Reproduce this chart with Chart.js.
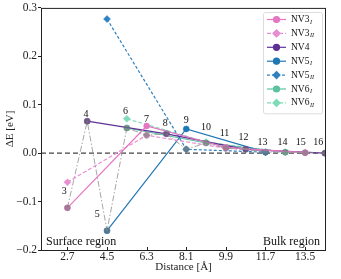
<!DOCTYPE html>
<html>
<head>
<meta charset="utf-8">
<script src="https://cdn.jsdelivr.net/npm/chart.js@4"></script>
<style>
  html, body { margin: 0; padding: 0; background: #fff; }
</style>
</head>
<body>
<canvas id="chart" width="341" height="279"></canvas>
<script>
// Layer number and depth of every layer in the slab
const layers = [3, 4, 5, 6, 7, 8, 9, 10, 11, 12, 13, 14, 15, 16];
const distances = [2.7, 3.6, 4.5, 5.4, 6.3, 7.2, 8.1, 9.0, 9.9, 10.8, 11.7, 12.6, 13.5, 14.4];
const xTicks = [2.7, 4.5, 6.3, 8.1, 9.9, 11.7, 13.5];
const yTicks = [-0.2, -0.1, 0.0, 0.1, 0.2, 0.3];

// Relative energies (eV) of each NV configuration
const nv3X = [2.7, 6.3, 9.9, 13.5];
const nv3iY = [-0.113, 0.056, 0.012, 0.001];
const nv3iiY = [-0.060, 0.037, 0.010, 0.001];
const nv4X = [3.6, 7.2, 10.8, 14.4];
const nv4Y = [0.066, 0.040, 0.008, 0.000];
const nv5X = [4.5, 8.1, 11.7];
const nv5iY = [-0.160, 0.050, 0.002];
const nv5iiY = [0.277, 0.008, 0.002];
const nv6X = [5.4, 9.0, 12.6];
const nv6iY = [0.052, 0.021, 0.002];
const nv6iiY = [0.071, 0.023, 0.002];
// lowest energy at each layer (grey zig-zag)
const minY = [-0.113, 0.066, -0.160, 0.052, 0.037, 0.040, 0.008, 0.021, 0.010, 0.008, 0.002, 0.002, 0.001, 0.000];

// where each layer number is written (data units)
const layerLabelX = [2.56, 3.55, 4.06, 5.34, 6.29, 7.15, 8.1, 9.0, 9.84, 10.7, 11.56, 12.47, 13.3, 14.1];
const layerLabelY = [-0.078, 0.080, -0.126, 0.087, 0.070, 0.062, 0.068, 0.054, 0.041, 0.033, 0.023, 0.023, 0.023, 0.023];

const SERIF = "'Liberation Serif', 'DejaVu Serif', serif";

const pts = (xs, ys) => xs.map((x, i) => ({ x: x, y: ys[i] }));

function series(label, sub, xs, ys, color, dash, style) {
  return {
    label: label,
    sub: sub,
    data: pts(xs, ys),
    borderColor: color,
    backgroundColor: color,
    pointBackgroundColor: color,
    pointBorderColor: color,
    borderWidth: 1.2,
    borderDash: dash,
    pointStyle: style,
    pointRadius: style === "circle" ? 3 : 3.5,
    pointBorderWidth: 0.5,
    tension: 0,
    order: 1,
  };
}

const datasets = [
  {
    label: "min",
    legend: false,
    data: pts(distances, minY),
    borderColor: "rgba(150,150,150,0.85)",
    borderWidth: 1,
    borderDash: [6, 2, 1.5, 2],
    pointStyle: "circle",
    pointRadius: 3.2,
    pointBackgroundColor: "rgba(120,120,120,0.55)",
    pointBorderColor: "rgba(120,120,120,0.3)",
    pointBorderWidth: 0,
    order: 0,
  },
  series("NV3", "I", nv3X, nv3iY, "#e377c2", [], "circle"),
  series("NV3", "II", nv3X, nv3iiY, "#ea8fd2", [4, 2], "rectRot"),
  series("NV4", "", nv4X, nv4Y, "#5f3196", [], "circle"),
  series("NV5", "I", nv5X, nv5iY, "#1f77b4", [], "circle"),
  series("NV5", "II", nv5X, nv5iiY, "#2f82c0", [3, 2], "rectRot"),
  series("NV6", "I", nv6X, nv6iY, "#5ec4a0", [], "circle"),
  series("NV6", "II", nv6X, nv6iiY, "#7fdcb8", [4, 2], "rectRot"),
];

// Draws zero line, frame, inward x ticks, text labels and the legend box
const decorations = {
  id: "decorations",
  beforeDatasetsDraw(chart) {
    const { ctx, chartArea: a, scales: { y } } = chart;
    const y0 = y.getPixelForValue(0);
    ctx.save();
    ctx.strokeStyle = "#444";
    ctx.lineWidth = 1.4;
    ctx.setLineDash([5, 3]);
    ctx.beginPath();
    ctx.moveTo(a.left, y0);
    ctx.lineTo(a.right, y0);
    ctx.stroke();
    ctx.restore();
  },
  afterDraw(chart) {
    const { ctx, chartArea: a, scales: { x, y } } = chart;
    ctx.save();

    // frame
    ctx.strokeStyle = "#222";
    ctx.lineWidth = 1;
    ctx.strokeRect(a.left + 0.5, a.top + 0.5, a.right - a.left - 1, a.bottom - a.top);

    // x ticks pointing into the plot
    ctx.beginPath();
    xTicks.forEach((v) => {
      const px = Math.round(x.getPixelForValue(v)) + 0.5;
      ctx.moveTo(px, a.bottom);
      ctx.lineTo(px, a.bottom - 3);
    });
    ctx.stroke();

    // layer numbers
    ctx.fillStyle = "#111";
    ctx.font = "10px " + SERIF;
    ctx.textAlign = "center";
    ctx.textBaseline = "middle";
    layers.forEach((n, i) => {
      ctx.fillText(String(n), x.getPixelForValue(layerLabelX[i]), y.getPixelForValue(layerLabelY[i]));
    });

    // region labels
    ctx.font = "12px " + SERIF;
    ctx.textBaseline = "alphabetic";
    ctx.textAlign = "left";
    ctx.fillText("Surface region", a.left + 5, a.bottom - 5);
    ctx.textAlign = "right";
    ctx.fillText("Bulk region", a.right - 6, a.bottom - 5);

    // legend
    const entries = chart.data.datasets.filter((d) => d.legend !== false);
    const bx = 263, by = 12, bw = 59, rowH = 13.9;
    const bh = entries.length * rowH + 4;
    ctx.fillStyle = "rgba(255,255,255,0.85)";
    ctx.strokeStyle = "#dddddd";
    ctx.lineWidth = 1;
    ctx.beginPath();
    ctx.roundRect(bx + 0.5, by + 0.5, bw, bh, 2);
    ctx.fill();
    ctx.stroke();
    entries.forEach((d, i) => {
      const cy = by + 7.5 + i * rowH;
      ctx.strokeStyle = d.borderColor;
      ctx.lineWidth = 1.2;
      ctx.setLineDash(d.borderDash);
      ctx.beginPath();
      ctx.moveTo(bx + 4, cy);
      ctx.lineTo(bx + 23, cy);
      ctx.stroke();
      ctx.setLineDash([]);
      Chart.helpers.drawPoint(ctx, {
        pointStyle: d.pointStyle,
        radius: d.pointRadius,
        borderWidth: 0.5,
        rotation: 0,
      }, bx + 13.5, cy);
      ctx.fillStyle = d.borderColor;
      ctx.fill();
      ctx.fillStyle = "#111";
      ctx.textAlign = "left";
      ctx.textBaseline = "middle";
      ctx.font = "9.5px " + SERIF;
      ctx.fillText(d.label, bx + 28, cy);
      const w = ctx.measureText(d.label).width;
      ctx.font = "italic 6px " + SERIF;
      ctx.fillText(d.sub, bx + 28 + w + 0.5, cy + 2.5);
    });

    ctx.restore();
  },
};

new Chart(document.getElementById("chart"), {
  type: "line",
  data: { datasets: datasets },
  options: {
    responsive: false,
    animation: false,
    layout: { padding: { left: 0, right: 15, top: 7, bottom: 0 } },
    plugins: {
      legend: { display: false },
      tooltip: { enabled: false },
    },
    scales: {
      x: {
        type: "linear",
        min: 1.5,
        max: 14.45,
        afterBuildTicks: (s) => { s.ticks = xTicks.map((v) => ({ value: v })); },
        afterFit: (s) => { s.height = 29; },
        grid: { display: false, drawTicks: false },
        border: { display: false },
        ticks: {
          padding: 0,
          color: "#222",
          font: { family: SERIF, size: 11.5 },
          callback: (v) => v.toFixed(1),
        },
        title: {
          display: true,
          text: "Distance [Å]",
          color: "#222",
          font: { family: SERIF, size: 11 },
          padding: { top: 0, bottom: 5 },
        },
      },
      y: {
        min: -0.2,
        max: 0.3,
        afterBuildTicks: (s) => { s.ticks = yTicks.map((v) => ({ value: v })); },
        afterFit: (s) => { s.width = 41; },
        grid: { drawOnChartArea: false, tickLength: 3, color: "#222" },
        border: { display: false },
        ticks: {
          padding: 1,
          color: "#222",
          font: { family: SERIF, size: 11.5 },
          callback: (v) => v.toFixed(1).replace("-", "\u2212"),
        },
        title: {
          display: true,
          text: "ΔE [eV]",
          color: "#222",
          font: { family: SERIF, size: 11 },
          padding: { top: 4, bottom: 0 },
        },
      },
    },
  },
  plugins: [decorations],
});
</script>
</body>
</html>
